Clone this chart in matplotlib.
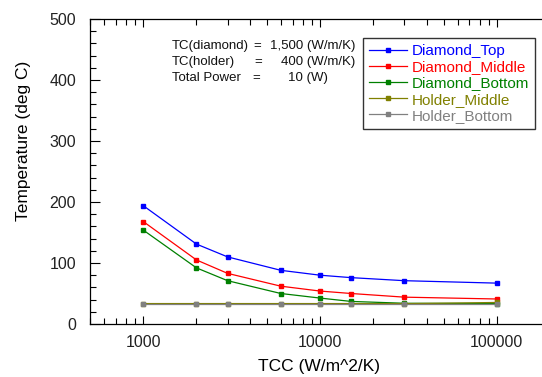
import matplotlib
matplotlib.use("Agg")
import matplotlib.pyplot as plt
from matplotlib.ticker import FixedLocator, LogLocator, NullFormatter, MultipleLocator

# data
tcc = [1000, 2000, 3000, 6000, 10000, 15000, 30000, 100000]
diamond_top = [194, 131, 110, 88, 80, 76, 71, 67]
diamond_middle = [168, 105, 83, 62, 54, 50, 44, 41]
diamond_bottom = [154, 92, 71, 50, 42.5, 37, 34, 33.5]
holder_middle = [33.5, 33.5, 33.5, 33.5, 33.5, 33.5, 33.3, 35.3]
holder_bottom = [33, 33, 33, 33, 33, 33, 33, 33]

series_names = ["Diamond_Top", "Diamond_Middle", "Diamond_Bottom",
                "Holder_Middle", "Holder_Bottom"]
series_vals = [diamond_top, diamond_middle, diamond_bottom,
               holder_middle, holder_bottom]
colors = ["#0000ff", "#ff0000", "#008000", "#808000", "#808080"]

plt.rcParams["font.family"] = ["Liberation Sans", "DejaVu Sans"]

W, H = 542, 377
fig = plt.figure(figsize=(W / 100, H / 100), dpi=100)
ax = fig.add_axes([90 / W, (H - 324) / H, (W - 90) / W, (324 - 19) / H])

for name, vals, c in zip(series_names, series_vals, colors):
    ax.plot(tcc, vals, color=c, lw=0.9, marker="s", ms=3, mec=c, mfc=c,
            label=name)

ax.set_xscale("log")
ax.set_xlim(500, 180000)
ax.set_ylim(0, 500)

ax.xaxis.set_major_locator(FixedLocator([1000, 10000, 100000]))
ax.set_xticklabels(["1000", "10000", "100000"])
ax.xaxis.set_minor_locator(LogLocator(base=10, subs=range(2, 10), numticks=20))
ax.xaxis.set_minor_formatter(NullFormatter())
ax.yaxis.set_major_locator(MultipleLocator(100))
ax.yaxis.set_minor_locator(MultipleLocator(20))

ax.tick_params(which="both", direction="in", top=True, right=False,
               labelsize=11.5, labelcolor="#222222", width=0.8)
ax.tick_params(axis="x", which="major", length=6, pad=8)
ax.tick_params(axis="y", which="major", length=7, pad=10)
ax.tick_params(which="minor", length=4)
ax.spines["right"].set_visible(False)
for s in ["left", "bottom", "top"]:
    ax.spines[s].set_linewidth(0.9)

ax.set_xlabel("TCC (W/m^2/K)", fontsize=12.5, va="center")
ax.set_ylabel("Temperature (deg C)", fontsize=12.5, va="center")
ax.xaxis.set_label_coords((319 - 90) / (W - 90), -(366 - 324) / (324 - 19))
ax.yaxis.set_label_coords(-(90 - 24) / (W - 90), (324 - 141) / (324 - 19))

leg = ax.legend(loc="upper left", bbox_to_anchor=((363 - 90) / (W - 90), 1 - (38 - 19) / (324 - 19)),
                fontsize=11, frameon=True, fancybox=False, edgecolor="black",
                handlelength=2.5, handletextpad=0.3, labelspacing=0.14,
                borderpad=0.4, borderaxespad=0)
leg.get_frame().set_linewidth(1.0)
for txt, c in zip(leg.get_texts(), colors):
    txt.set_color(c)


# parameter block, placed in pixel coordinates
def px(x, y, s, ha="left"):
    fig.text(x / W, 1 - y / H, s, fontsize=9.5, ha=ha, va="center", color="#111111")


px(172, 46, "TC(diamond)")
px(172, 62, "TC(holder)")
px(172, 78, "Total Power")
px(257, 46, "=", ha="center")
px(258, 62, "=", ha="center")
px(256, 78, "=", ha="center")
px(355, 46, "1,500 (W/m/K)", ha="right")
px(355, 62, "400 (W/m/K)", ha="right")
px(288, 78, "10 (W)")

fig.savefig("out.png", dpi=100)
